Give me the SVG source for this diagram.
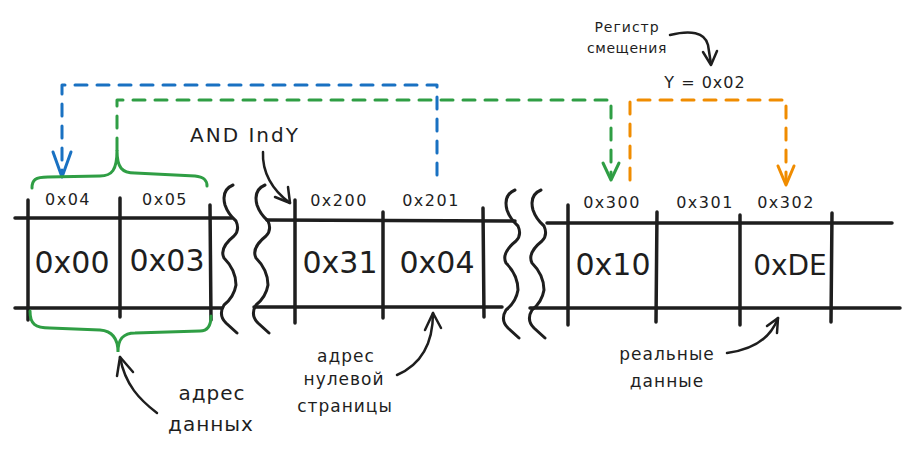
<svg xmlns="http://www.w3.org/2000/svg" width="915" height="454" viewBox="0 0 915 454">
<style>
  .ln{stroke:#1e1e1e;stroke-width:3.5;stroke-linecap:round;fill:none}
  .thin{stroke:#1e1e1e;stroke-width:2.5;stroke-linecap:round;stroke-linejoin:round;fill:none}
  .t{font-family:"DejaVu Sans","Liberation Sans",sans-serif;fill:#1e1e1e;text-anchor:middle}
  .addr{font-size:16px;letter-spacing:1.5px}
  .val{font-size:30px}
  .note{font-size:17px;letter-spacing:1px}
  .dash{fill:none;stroke-width:3;stroke-dasharray:12 10;stroke-linecap:round;stroke-linejoin:round}
  .head{fill:none;stroke-width:3;stroke-linecap:round;stroke-linejoin:round}
</style>
<defs>
  <path id="sq" d="M233,185 Q221,190 225,205 Q228,214 236,221 Q240,230 234,236 Q219,248 224,258 Q236,270 236,285 Q234,297 224,305 Q218,315 226,323 L237,333"/>
</defs>
<rect width="915" height="454" fill="#ffffff"/>

<g id="segment-zero-page-data">
  <line class="ln" x1="15" y1="218" x2="232" y2="218"/>
  <line class="ln" x1="15" y1="308" x2="222" y2="308"/>
  <line class="ln" x1="28" y1="200" x2="28" y2="320"/>
  <line class="ln" x1="120" y1="198" x2="120" y2="317"/>
  <line class="ln" x1="210" y1="205" x2="211" y2="320"/>
  <text class="t addr" x="68" y="205">0x04</text>
  <text class="t addr" x="165" y="205">0x05</text>
  <text class="t val" x="72" y="273">0x00</text>
  <text class="t val" x="167" y="271">0x03</text>
</g>

<g id="break-1">
  <use href="#sq" class="ln" style="stroke-width:3"/>
  <use href="#sq" class="ln" style="stroke-width:3" transform="translate(32,0)"/>
</g>

<g id="segment-page2">
  <line class="ln" x1="267" y1="220" x2="515" y2="221"/>
  <line class="ln" x1="254" y1="307" x2="502" y2="307"/>
  <line class="ln" x1="295" y1="200" x2="295" y2="323"/>
  <line class="ln" x1="383" y1="212" x2="383" y2="318"/>
  <line class="ln" x1="483" y1="208" x2="484" y2="317"/>
  <text class="t addr" x="339" y="206">0x200</text>
  <text class="t addr" x="431" y="206">0x201</text>
  <text class="t val" x="340" y="273">0x31</text>
  <text class="t val" x="437" y="273">0x04</text>
</g>

<g id="break-2">
  <use href="#sq" class="ln" style="stroke-width:3" transform="translate(282,5)"/>
  <use href="#sq" class="ln" style="stroke-width:3" transform="translate(308,5)"/>
</g>

<g id="segment-page3">
  <line class="ln" x1="547" y1="223" x2="892" y2="223"/>
  <line class="ln" x1="530" y1="308" x2="900" y2="308"/>
  <line class="ln" x1="568" y1="205" x2="568" y2="325"/>
  <line class="ln" x1="657" y1="212" x2="656" y2="322"/>
  <line class="ln" x1="740" y1="215" x2="740" y2="325"/>
  <line class="ln" x1="832" y1="213" x2="831" y2="322"/>
  <text class="t addr" x="612" y="208">0x300</text>
  <text class="t addr" x="705" y="208">0x301</text>
  <text class="t addr" x="786" y="208">0x302</text>
  <text class="t val" x="613" y="275">0x10</text>
  <text class="t val" x="790" y="275" style="font-size:28px">0xDE</text>
</g>

<g id="label-register">
  <text class="t" x="627" y="32" style="font-size:14px;letter-spacing:1px">Регистр</text>
  <text class="t" x="627" y="53" style="font-size:14px;letter-spacing:0.6px">смещения</text>
  <text class="t" x="705" y="88" style="font-size:16px;letter-spacing:1px">Y = 0x02</text>
</g>

<g id="label-and-indy">
  <text class="t" x="245" y="142" style="font-size:20px;letter-spacing:2px">AND IndY</text>
</g>

<g id="label-data-address">
  <text class="t" x="212" y="400" style="font-size:20px;letter-spacing:1px">адрес</text>
  <text class="t" x="211" y="431" style="font-size:20px;letter-spacing:1px">данных</text>
</g>

<g id="label-zero-page-address">
  <text class="t note" x="346" y="362">адрес</text>
  <text class="t note" x="344" y="385">нулевой</text>
  <text class="t note" x="345" y="412">страницы</text>
</g>

<g id="label-real-data">
  <text class="t note" x="667" y="360">реальные</text>
  <text class="t note" x="667" y="387">данные</text>
</g>

<g id="connectors">
  <!-- blue -->
  <path class="dash" stroke="#1971c2" d="M437,175 V85 H62 V172"/>
  <path class="head" stroke="#1971c2" d="M53,152 L62,177 L71,152"/>
  <!-- green -->
  <path class="dash" stroke="#2f9e44" d="M117,150 V100 H611 V176"/>
  <path class="head" stroke="#2f9e44" d="M603,163 L611,180 L619,163"/>
  <path fill="none" stroke="#2f9e44" stroke-width="3" stroke-linecap="round" d="M32,188 C32,180 35,177 48,177 L100,176 C112,176 117,170 117,150 C117,168 122,173 135,173 L195,176 C204,177 207,180 207,186"/>
  <path fill="none" stroke="#2f9e44" stroke-width="3" stroke-linecap="round" d="M30,311 C30,324 35,328 50,328 L100,330 C112,331 118,338 118,352 C118,338 124,333 135,333 L200,331 C208,331 211,325 211,316"/>
  <!-- orange -->
  <path class="dash" stroke="#f08c00" d="M630,180 V100 H786 V181"/>
  <path class="head" stroke="#f08c00" d="M778,166 L786,185 L794,166"/>
  <!-- black annotation arrows -->
  <path class="thin" d="M670,35 C690,30 705,32 708,45 L711,64"/>
  <path class="thin" d="M703,52 L711,65 L717,51"/>
  <path class="thin" d="M263,152 C262,172 272,190 290,203"/>
  <path class="thin" d="M275,197 L290,203 L288,187"/>
  <path class="thin" d="M157,413 C140,400 125,385 120,357"/>
  <path class="thin" d="M117,376 L120,357 L133,372"/>
  <path class="thin" d="M397,375 C420,365 433,345 433,313"/>
  <path class="thin" d="M425,330 L433,313 L441,328"/>
  <path class="thin" d="M727,353 C750,350 770,340 778,318"/>
  <path class="thin" d="M767,326 L778,318 L777,333"/>
</g>
</svg>
